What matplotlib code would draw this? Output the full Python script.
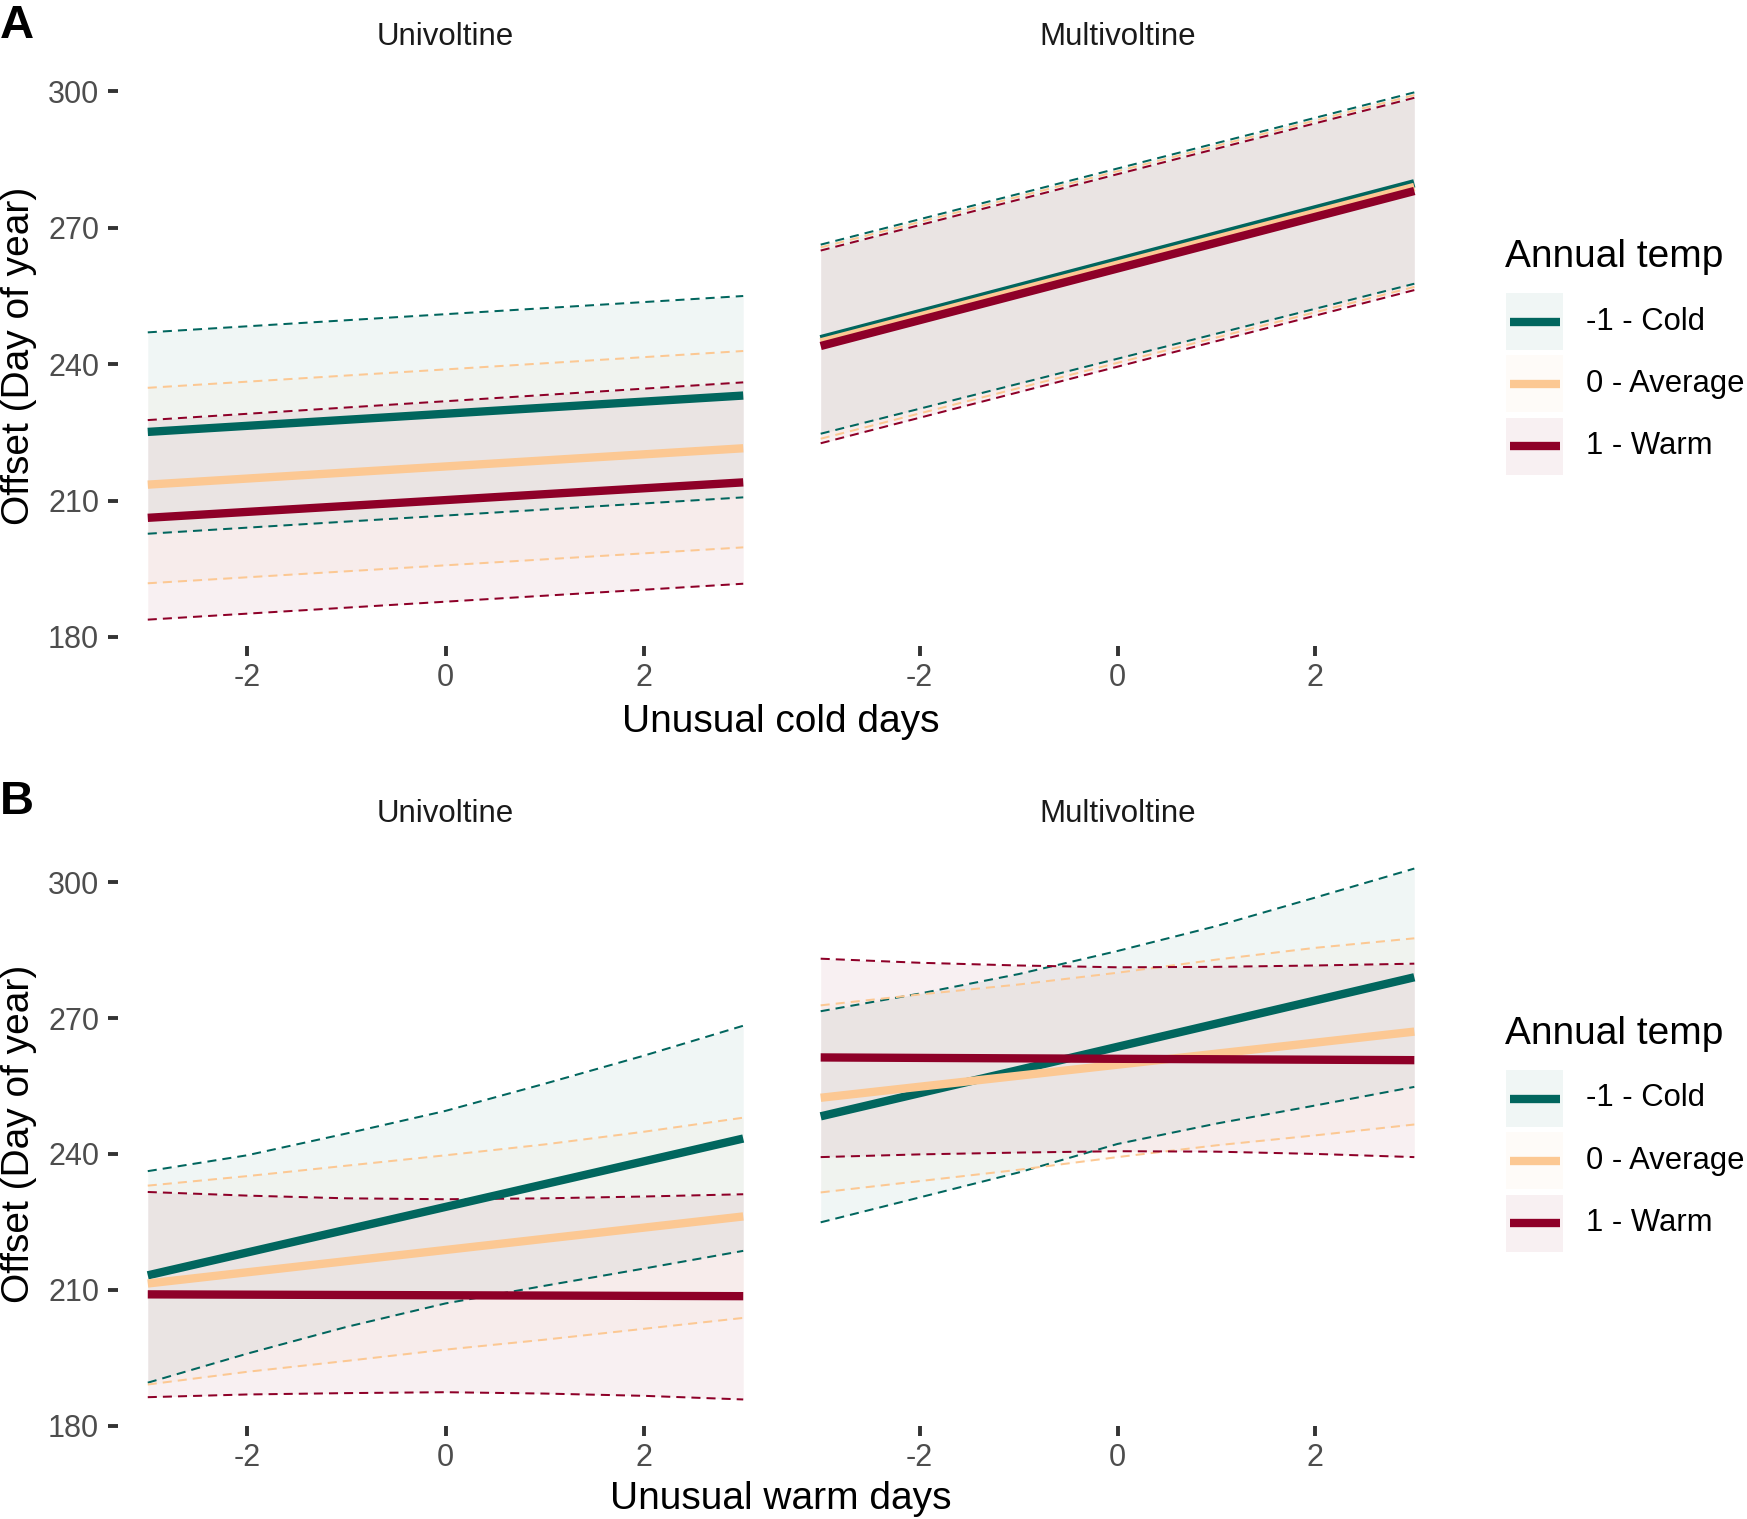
import matplotlib
matplotlib.use("Agg")
import matplotlib.pyplot as plt
from matplotlib.patches import Rectangle

plt.rcParams['font.family'] = ['Liberation Sans', 'DejaVu Sans']

# ---- data ----
GROUPS = ['-1 - Cold', '0 - Average', '1 - Warm']
COLORS = ['#01665E', '#FCC893', '#8E0028']
FACETS = ['Univoltine', 'Multivoltine']
X_TITLES = ['Unusual cold days', 'Unusual warm days']
X_ENDS = [-3, 3]
X_BAND = [-3, -2, -1, 0, 1, 2, 3]
X_TICKS = [-2, 0, 2]
Y_TICKS = [180, 210, 240, 270, 300]

# panel A, univoltine (values at x = -3 and 3)
a_uni_cold_mean = [225.1, 233.1]
a_uni_cold_lo = [202.7, 210.7]
a_uni_cold_hi = [247.0, 255.0]
a_uni_avg_mean = [213.5, 221.5]
a_uni_avg_lo = [191.8, 199.7]
a_uni_avg_hi = [234.8, 242.9]
a_uni_warm_mean = [206.2, 214.0]
a_uni_warm_lo = [183.8, 191.7]
a_uni_warm_hi = [227.7, 236.0]

# panel A, multivoltine
a_multi_cold_mean = [245.5, 279.8]
a_multi_cold_lo = [224.7, 257.7]
a_multi_cold_hi = [266.3, 299.8]
a_multi_avg_mean = [244.8, 279.0]
a_multi_avg_lo = [223.6, 257.0]
a_multi_avg_hi = [265.7, 299.2]
a_multi_warm_mean = [244.0, 278.1]
a_multi_warm_lo = [222.6, 256.3]
a_multi_warm_hi = [265.0, 298.6]

# panel B, univoltine (means at x = -3, 3; bands at X_BAND)
b_uni_cold_mean = [213.2, 243.4]
b_uni_cold_lo = [189.5, 195.9, 201.8, 207.0, 210.9, 214.7, 218.6]
b_uni_cold_hi = [236.2, 239.7, 244.5, 249.5, 255.5, 261.7, 268.3]
b_uni_avg_mean = [211.4, 226.2]
b_uni_avg_lo = [189.1, 191.9, 194.3, 196.8, 199.0, 201.4, 203.8]
b_uni_avg_hi = [233.0, 235.1, 237.4, 239.7, 242.1, 244.9, 248.0]
b_uni_warm_mean = [209.0, 208.6]
b_uni_warm_lo = [186.3, 186.9, 187.2, 187.4, 187.1, 186.6, 185.8]
b_uni_warm_hi = [231.6, 230.8, 230.2, 230.0, 230.2, 230.6, 231.1]

# panel B, multivoltine
b_multi_cold_mean = [248.3, 279.0]
b_multi_cold_lo = [224.9, 230.4, 235.9, 242.2, 246.7, 250.7, 254.8]
b_multi_cold_hi = [271.5, 275.4, 279.7, 284.8, 290.3, 296.6, 303.0]
b_multi_avg_mean = [252.4, 267.0]
b_multi_avg_lo = [231.5, 234.0, 236.5, 239.3, 241.9, 244.1, 246.5]
b_multi_avg_hi = [272.8, 275.2, 277.4, 280.0, 282.9, 285.5, 287.6]
b_multi_warm_mean = [261.3, 260.7]
b_multi_warm_lo = [239.3, 239.9, 240.3, 240.6, 240.5, 240.0, 239.3]
b_multi_warm_hi = [283.1, 282.2, 281.6, 281.2, 281.3, 281.6, 282.0]

ROWS = [
    {
        'tag': 'A', 'band_x': X_ENDS,
        'facets': [
            [(a_uni_cold_mean, a_uni_cold_lo, a_uni_cold_hi),
             (a_uni_avg_mean, a_uni_avg_lo, a_uni_avg_hi),
             (a_uni_warm_mean, a_uni_warm_lo, a_uni_warm_hi)],
            [(a_multi_cold_mean, a_multi_cold_lo, a_multi_cold_hi),
             (a_multi_avg_mean, a_multi_avg_lo, a_multi_avg_hi),
             (a_multi_warm_mean, a_multi_warm_lo, a_multi_warm_hi)],
        ],
    },
    {
        'tag': 'B', 'band_x': X_BAND,
        'facets': [
            [(b_uni_cold_mean, b_uni_cold_lo, b_uni_cold_hi),
             (b_uni_avg_mean, b_uni_avg_lo, b_uni_avg_hi),
             (b_uni_warm_mean, b_uni_warm_lo, b_uni_warm_hi)],
            [(b_multi_cold_mean, b_multi_cold_lo, b_multi_cold_hi),
             (b_multi_avg_mean, b_multi_avg_lo, b_multi_avg_hi),
             (b_multi_warm_mean, b_multi_warm_lo, b_multi_warm_hi)],
        ],
    },
]

# ---- layout (pixels in a 1747 x 1519 canvas) ----
W, H, DPI = 1747, 1519, 100
PANEL_X = [(118, 773), (791, 1444)]
PANEL_Y = [(66, 646), (842, 1426)]
ROW_OFF = [0, 777]      # vertical shift of row B decorations
FILL_ALPHA = 0.06
MEAN_LW = 6
BAND_LW = 1.45


def fx(px):
    return px / W


def fy(px):
    return 1 - px / H


fig = plt.figure(figsize=(W / DPI, H / DPI), dpi=DPI)

# overlay axes in pixel units, used for the legend keys
lay = fig.add_axes([0, 0, 1, 1])
lay.set_xlim(0, W)
lay.set_ylim(H, 0)
lay.axis('off')

for r, row in enumerate(ROWS):
    top, bottom = PANEL_Y[r]
    off = ROW_OFF[r]
    values = [v for facet in row['facets'] for grp in facet for s in grp for v in s]
    lo, hi = min(values), max(values)
    pad = 0.05 * (hi - lo)
    xpad = 0.05 * (X_ENDS[1] - X_ENDS[0])

    for f, facet in enumerate(row['facets']):
        left, right = PANEL_X[f]
        ax = fig.add_axes([fx(left), fy(bottom), fx(right - left), (bottom - top) / H])
        for (mean, band_lo, band_hi), color in zip(facet, COLORS):
            ax.fill_between(row['band_x'], band_lo, band_hi, color=color,
                            alpha=FILL_ALPHA, linewidth=0, zorder=1)
        for (mean, band_lo, band_hi), color in zip(facet, COLORS):
            ax.plot(row['band_x'], band_lo, color=color, lw=BAND_LW,
                    dashes=(4.5, 3), zorder=2)
            ax.plot(row['band_x'], band_hi, color=color, lw=BAND_LW,
                    dashes=(4.5, 3), zorder=2)
        for (mean, band_lo, band_hi), color in zip(facet, COLORS):
            ax.plot(X_ENDS, mean, color=color, lw=MEAN_LW,
                    solid_capstyle='butt', zorder=3)

        ax.set_xlim(X_ENDS[0] - xpad, X_ENDS[1] + xpad)
        ax.set_ylim(lo - pad, hi + pad)
        ax.set_xticks(X_TICKS)
        ax.set_xticklabels([str(t) for t in X_TICKS])
        ax.set_yticks(Y_TICKS)
        ax.set_yticklabels([str(t) for t in Y_TICKS])
        for s in ax.spines.values():
            s.set_visible(False)
        ax.tick_params(axis='both', length=7, width=2.8, color='#333333',
                       labelsize=22, labelcolor='#4D4D4D')
        ax.tick_params(axis='x', pad=5.5)
        ax.tick_params(axis='y', pad=6.5)
        if f == 1:
            ax.tick_params(axis='y', left=False, labelleft=False)
        ax.patch.set_alpha(0)

        fig.text(fx((left + right) / 2), fy(44.6 + off), FACETS[f],
                 ha='center', va='baseline', fontsize=22.5, color='#1A1A1A')

    # titles and tag
    fig.text(fx(0), fy(37.5 + off), row['tag'], fontsize=34,
             fontweight='bold', ha='left', va='baseline')
    fig.text(fx((PANEL_X[0][0] + PANEL_X[1][1]) / 2), fy(732 + off),
             X_TITLES[r], ha='center', va='baseline', fontsize=28)
    fig.text(fx(19), fy((top + bottom) / 2), 'Offset (Day of year)',
             rotation=90, ha='center', va='center', fontsize=28)

    # legend, drawn by hand in pixel units
    fig.text(fx(1505), fy(267 + off), 'Annual temp',
             ha='left', va='baseline', fontsize=28)
    for i, (label, color) in enumerate(zip(GROUPS, COLORS)):
        key_top = 293 + off + i * 62.4
        lay.add_patch(Rectangle((1506, key_top), 57, 57, facecolor=color,
                                alpha=FILL_ALPHA, edgecolor='none'))
        lay.plot([1510, 1560], [key_top + 28.5] * 2, color=color,
                 lw=MEAN_LW, solid_capstyle='butt')
        lay.text(1586.5, key_top + 28.5, label, ha='left', va='center',
                 fontsize=22.3, clip_on=False)

fig.savefig('out.png', dpi=DPI)
